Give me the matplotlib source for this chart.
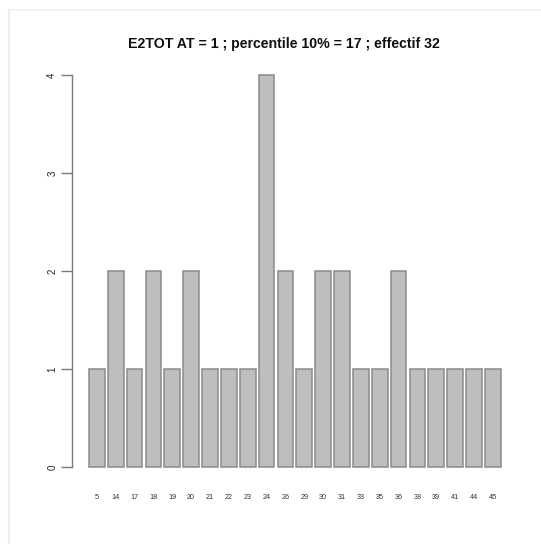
import matplotlib
matplotlib.use("Agg")
import matplotlib.pyplot as plt
from matplotlib.lines import Line2D
import numpy as np

# Score totals (E2TOT) and how many subjects got each score
scores = ["5", "14", "17", "18", "19", "20", "21", "22", "23", "24", "26",
          "29", "30", "31", "33", "35", "36", "38", "39", "41", "44", "45"]
counts = [1, 2, 1, 2, 1, 2, 1, 1, 1, 4, 2, 1, 2, 2, 1, 1, 2, 1, 1, 1, 1, 1]
yticks = [0, 1, 2, 3, 4]
title = "E2TOT AT = 1 ; percentile 10% = 17 ; effectif 32"

plt.rcParams["font.family"] = ["Liberation Sans", "DejaVu Sans"]

fig = plt.figure(figsize=(5.41, 5.44), dpi=100)
ax = fig.add_axes([0.134, 0.1127, 0.822, 0.7783])

# R-style barplot layout: width 1, gap 0.2
width, space = 1.0, 0.2
lefts = space + np.arange(len(counts)) * (width + space)
centers = lefts + width / 2
ax.bar(centers, counts, width=width, color="#bebebe",
       edgecolor="#8a8a8a", linewidth=1.1)

span_l, span_r = lefts[0], lefts[-1] + width
pad = 0.04 * (span_r - span_l)
ax.set_xlim(span_l - pad, span_r + pad)
ax.set_ylim(-0.16, 4.16)

for s in ["top", "right", "bottom"]:
    ax.spines[s].set_visible(False)
ax.spines["left"].set_bounds(0, 4)
ax.spines["left"].set_color("#7a7a7a")
ax.spines["left"].set_linewidth(1.0)

ax.set_yticks(yticks)
ax.set_yticklabels([str(t) for t in yticks], rotation=90, va="center",
                   fontsize=7, color="#222222")
ax.tick_params(axis="y", length=8, width=1.0, color="#7a7a7a", pad=3)

ax.set_xticks(centers)
ax.set_xticklabels(scores, fontsize=5.2, color="#333333")
ax.tick_params(axis="x", length=0, pad=8)

fig.text(284 / 541, 1 - 44 / 544, title, ha="center", va="center",
         fontsize=10.2, fontweight="bold", color="#111111")

# faint page frame
fig.add_artist(Line2D([9 / 541, 9 / 541], [0, 1 - 10 / 544],
                      transform=fig.transFigure, color="#eeeeee", lw=1.5))
fig.add_artist(Line2D([9 / 541, 1], [1 - 10 / 544, 1 - 10 / 544],
                      transform=fig.transFigure, color="#f0f0f0", lw=1.2))

fig.savefig("out.png", dpi=100)
